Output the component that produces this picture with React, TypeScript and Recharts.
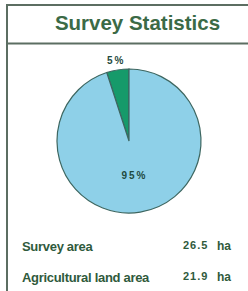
import React from 'react';
import { PieChart, Pie, Cell } from 'recharts';

const sliceNames = ['Other land', 'Agricultural share'];
const sliceValues = [5, 95];
const sliceLabels = ['5%', '95%'];
const sliceColors = ['#169a6a', '#8ed0e8'];

const statLabels = ['Survey area', 'Agricultural land area'];
const statValues = ['26.5', '21.9'];
const statUnit = 'ha';
const title = 'Survey Statistics';

const data = sliceNames.map((name, i) => ({ name, value: sliceValues[i], label: sliceLabels[i] }));

const RAD = Math.PI / 180;
const FONT = '"Liberation Sans", Arial, sans-serif';

const renderLabel = (props: any) => {
  const { cx, cy, midAngle, outerRadius, index } = props;
  const r = index === 0 ? outerRadius + 10 : 35;
  const x = cx + r * Math.cos(-midAngle * RAD);
  const y = cy + r * Math.sin(-midAngle * RAD);
  return (
    <text
      x={x}
      y={y}
      textAnchor="middle"
      dominantBaseline="central"
      fontFamily={FONT}
      fontSize={10}
      fontWeight="bold"
      letterSpacing={2}
      fill="#1f4a3e"
    >
      {data[index].label}
    </text>
  );
};

export default function App() {
  return (
    <div style={{ position: 'absolute', left: 0, top: 0, width: 248, height: 291, background: '#fff' }}>
      <div style={{ position: 'absolute', left: 0, top: 0 }}>
        <PieChart width={248} height={291} margin={{ top: 0, right: 0, bottom: 0, left: 0 }}>
          <Pie
            data={data}
            dataKey="value"
            cx={129}
            cy={141}
            outerRadius={72}
            startAngle={90}
            endAngle={450}
            stroke="#3d6660"
            strokeWidth={1.2}
            label={renderLabel}
            labelLine={false}
            isAnimationActive={false}
          >
            {data.map((d, i) => (
              <Cell key={d.name} fill={sliceColors[i]} />
            ))}
          </Pie>
        </PieChart>
      </div>
      <svg width={248} height={291} style={{ position: 'absolute', left: 0, top: 0, pointerEvents: 'none' }}>
        <line x1={7} y1={4} x2={7} y2={291} stroke="#5c6e62" strokeWidth={2} />
        <line x1={6} y1={5} x2={248} y2={5} stroke="#5c6e62" strokeWidth={2} />
        <line x1={6} y1={43.5} x2={248} y2={43.5} stroke="#5c6e62" strokeWidth={2} />
        <text x={137.5} y={30} textAnchor="middle" fontFamily={FONT} fontSize={20.5} fontWeight="bold" fill="#3b6a46">
          {title}
        </text>
        {statLabels.map((s, i) => (
          <g key={s}>
            <text x={22} y={251 + i * 31} fontFamily={FONT} fontSize={13} fontWeight="bold" letterSpacing={-0.3} fill="#2f5a3c">
              {s}
            </text>
            <text x={183} y={248.5 + i * 31} fontFamily={FONT} fontSize={11} fontWeight="bold" letterSpacing={1} fill="#2f5a3c">
              {statValues[i]}
            </text>
            <text x={217} y={250 + i * 31} fontFamily={FONT} fontSize={12} fontWeight="bold" fill="#2f5a3c">
              {statUnit}
            </text>
          </g>
        ))}
      </svg>
    </div>
  );
}
